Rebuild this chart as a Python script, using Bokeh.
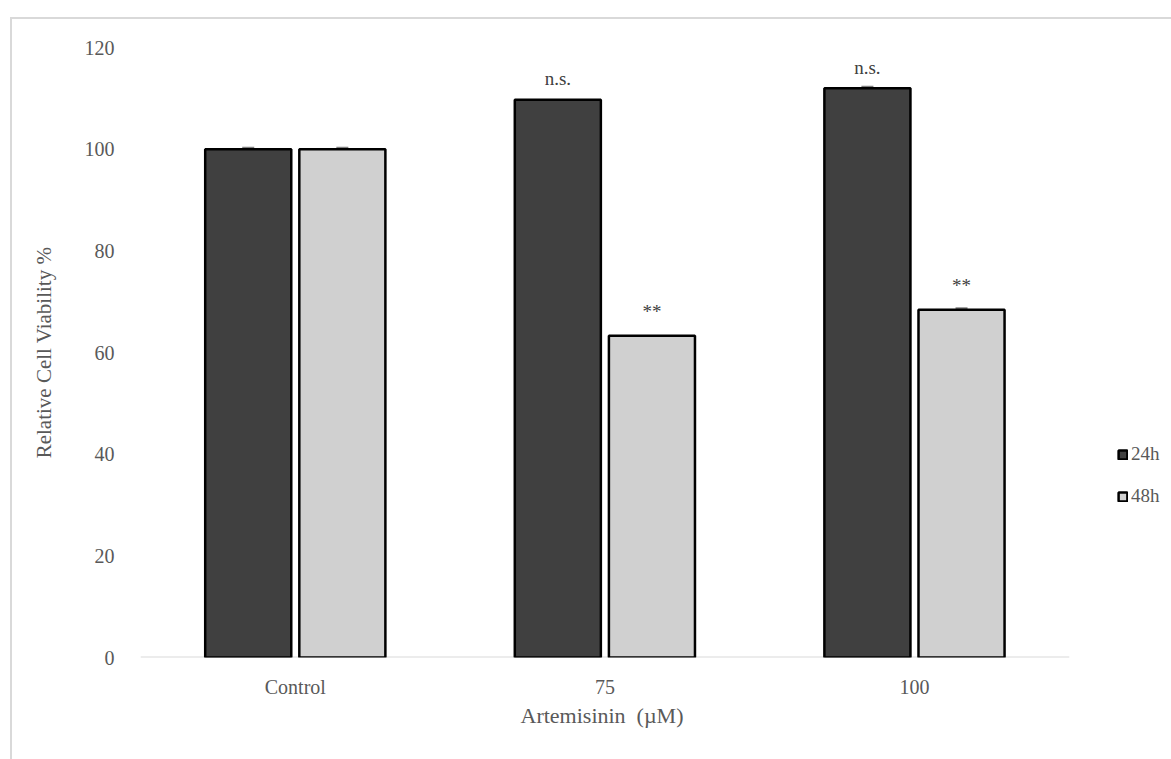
from bokeh.plotting import figure
from bokeh.models import (ColumnDataSource, Whisker, TeeHead, Legend, LegendItem,
                          Range1d, FixedTicker, Title)
from bokeh.core.properties import value
from bokeh.embed import file_html
from bokeh.resources import INLINE

# Relative cell viability after artemisinin treatment
categories = ["Control", "75", "100"]
viability_24h = [100.0, 109.7, 112.0]
viability_48h = [100.0, 63.3, 68.4]
err_24h = [0.3, 0.0, 0.3]
err_48h = [0.3, 0.0, 0.3]
sig_24h = ["", "n.s.", "n.s."]
sig_48h = ["", "**", "**"]
y_ticks = [0, 20, 40, 60, 80, 100, 120]

FONT = "Liberation Serif"
TXT = "#595959"
DARK = "#404040"
LIGHT = "#d0d0d0"
OFF = 0.152
BAR_W = 0.278

# category slots sit at 0.5, 1.5, 2.5 ... ; the right end leaves room for the legend
centers = [i + 0.5 for i in range(len(categories))]
src = ColumnDataSource(dict(
    x24=[c - OFF for c in centers], x48=[c + OFF for c in centers],
    v24=viability_24h, v48=viability_48h, s24=sig_24h, s48=sig_48h))

p = figure(x_range=Range1d(0, len(categories) * 1.109), y_range=Range1d(0, 120),
           width=1161, height=742, output_backend="svg", toolbar_location=None,
           min_border_left=128, min_border_right=3, min_border_top=28,
           min_border_bottom=104, margin=(17, 0, 0, 10))
p.styles = {"border-top": "2px solid #d9d9d9", "border-left": "2px solid #d9d9d9"}
p.outline_line_color = None
p.xgrid.grid_line_color = None
p.ygrid.grid_line_color = None

# category axis baseline
p.segment(x0=[0], x1=[len(categories)], y0=[0], y1=[0], line_color="#d9d9d9", line_width=2)

r24 = p.vbar(x="x24", top="v24", width=BAR_W, source=src,
             fill_color=DARK, line_color="black", line_width=2.5)
r48 = p.vbar(x="x48", top="v48", width=BAR_W, source=src,
             fill_color=LIGHT, line_color="black", line_width=2.5)

# error bars (only where a spread was recorded)
for xs, vals, errs in ((src.data["x24"], viability_24h, err_24h),
                       (src.data["x48"], viability_48h, err_48h)):
    keep = [i for i, e in enumerate(errs) if e > 0]
    es = ColumnDataSource(dict(x=[xs[i] for i in keep],
                               lo=[vals[i] - errs[i] for i in keep],
                               hi=[vals[i] + errs[i] for i in keep]))
    w = Whisker(base="x", lower="lo", upper="hi", source=es,
                line_color="#7f7f7f", line_width=1.5,
                upper_head=TeeHead(size=12, line_color="#7f7f7f", line_width=2),
                lower_head=TeeHead(size=12, line_color="#7f7f7f", line_width=2))
    p.add_layout(w)

# significance marks above the bars
p.text(x="x24", y="v24", text="s24", source=src,
       text_align="center", text_baseline="middle", y_offset=-21,
       text_font=value(FONT), text_font_size="19px", text_color="#404040")
p.text(x="x48", y="v48", text="s48", source=src,
       text_align="center", text_baseline="middle", y_offset=-24,
       text_font=value(FONT), text_font_size="19px", text_color="#404040")

p.yaxis.ticker = FixedTicker(ticks=y_ticks)
p.yaxis.axis_line_color = None
p.yaxis.major_tick_line_color = None
p.yaxis.minor_tick_line_color = None
p.yaxis.major_label_standoff = 20
p.yaxis.axis_label = "Relative Cell Viability %"
p.yaxis.axis_label_standoff = 26

p.xaxis.ticker = FixedTicker(ticks=centers)
p.xaxis.major_label_overrides = {c: name for c, name in zip(centers, categories)}
p.xaxis.axis_line_color = None
p.xaxis.major_tick_line_color = None
p.xaxis.minor_tick_line_color = None
p.xaxis.major_label_standoff = 12

for ax in (p.xaxis[0], p.yaxis[0]):
    ax.major_label_text_font = FONT
    ax.major_label_text_font_size = "20px"
    ax.major_label_text_color = TXT
    ax.axis_label_text_font = FONT
    ax.axis_label_text_font_size = "21px"
    ax.axis_label_text_font_style = "normal"
    ax.axis_label_text_color = TXT

# x axis title, placed under the category slots
xtitle = Title(text="Artemisinin\u00a0\u00a0(µM)", align="left", offset=380, standoff=0,
               text_font=FONT, text_font_size="22px", text_font_style="normal",
               text_color=TXT)
p.add_layout(xtitle, "below")

legend = Legend(items=[LegendItem(label="24h", renderers=[r24]),
                       LegendItem(label="48h", renderers=[r48])],
                location=(977, 150), orientation="vertical",
                glyph_width=11, glyph_height=11, label_text_font=FONT,
                label_text_font_size="19px", label_text_color=TXT,
                label_standoff=3, spacing=20, label_height=20, padding=4,
                margin=0, border_line_color=None, background_fill_alpha=0)
p.add_layout(legend, "center")

open("out.html", "w").write(file_html(p, INLINE))
